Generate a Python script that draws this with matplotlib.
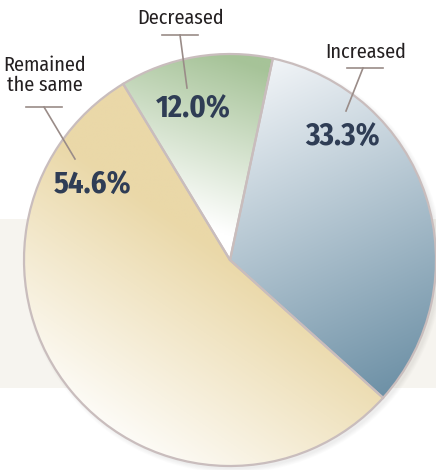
import numpy as np
import matplotlib
matplotlib.use("Agg")
import matplotlib.pyplot as plt
from matplotlib.patches import Rectangle, Circle
from matplotlib import font_manager

# Survey answers
categories = ["Increased", "Remained\nthe same", "Decreased"]
shares = [33.3, 54.6, 12.0]
pct_labels = ["33.3%", "54.6%", "12.0%"]

W, H = 436, 470
fig = plt.figure(figsize=(W / 100, H / 100), dpi=100)
ax = fig.add_axes([0, 0, 1, 1])

names = {f.name for f in font_manager.fontManager.ttflist}
narrow = next((n for n in ["Fira Sans Condensed", "PT Sans Narrow",
                           "Roboto Condensed", "Open Sans Condensed",
                           "Archivo Narrow", "Liberation Sans Narrow"]
               if n in names), "DejaVu Sans")

# light horizontal band behind the pie
ax.add_patch(Rectangle((0, H - 388), W, 169, facecolor="#f6f4ef",
                       edgecolor="none", zorder=0))

cx, cy, r = 230, H - 260, 206

# soft drop shadow, offset to the lower right
for k in range(6):
    ax.add_patch(Circle((cx + 3, cy - 3), r + k * 0.8,
                        facecolor="#000000", alpha=0.011, edgecolor="none",
                        zorder=1))

wedges, _ = ax.pie(shares, startangle=78, counterclock=False,
                   center=(cx, cy), radius=r, frame=True,
                   wedgeprops=dict(edgecolor="#c9bdbd", linewidth=1.6))
ax.set_xlim(0, W)
ax.set_ylim(0, H)
ax.set_aspect("equal")
ax.axis("off")


def gradient(c0, c1, p0, p1):
    """Linear gradient from colour c0 at point p0 to c1 at point p1."""
    xs = np.linspace(cx - r, cx + r, 300)
    ys = np.linspace(cy - r, cy + r, 300)
    X, Y = np.meshgrid(xs, ys)
    d = np.array(p1, float) - np.array(p0, float)
    t = ((X - p0[0]) * d[0] + (Y - p0[1]) * d[1]) / (d @ d)
    t = np.clip(t, 0, 1)[..., None]
    a = np.array(matplotlib.colors.to_rgb(c0))
    b = np.array(matplotlib.colors.to_rgb(c1))
    return a + (b - a) * t


grads = [
    gradient("#f1f4f7", "#6a8ea4", (250, H - 70), (400, H - 400)),
    gradient("#ffffff", "#ead8a8", (60, H - 420), (190, H - 230)),
    gradient("#ffffff", "#a6c398", (215, H - 230), (270, H - 70)),
]
for w, img in zip(wedges, grads):
    w.set_facecolor("none")
    w.set_zorder(3)
    im = ax.imshow(img, extent=(cx - r, cx + r, cy - r, cy + r),
                   origin="lower", interpolation="bilinear", zorder=2)
    im.set_clip_path(w)

ax.set_xlim(0, W)
ax.set_ylim(0, H)

# percentage labels
pct_pos = [(342, 138), (93, 186), (193, 110)]
for txt, (x, y) in zip(pct_labels, pct_pos):
    ax.text(x, H - y, txt, ha="center", va="center", fontsize=22,
            fontweight="bold", family=narrow, color="#2f3d55", zorder=5)

# category labels with leader lines
lead = "#9a8c88"
cat_pos = [(366, 52), (45, 75), (181, 18)]
for txt, (x, y) in zip(categories, cat_pos):
    ax.text(x, H - y, txt, ha="center", va="center", fontsize=14.5,
            family=narrow, color="#231f20", zorder=5, linespacing=1.05)

lines = [
    ((347, 68), (383, 68), (363, 68), (346, 111)),
    ((26, 107), (62, 107), (44, 107), (75, 159)),
    ((162, 35), (198, 35), (180, 35), (187, 88)),
]
for a, b, c, d in lines:
    ax.plot([a[0], b[0]], [H - a[1], H - b[1]], color=lead, lw=1.2, zorder=5)
    ax.plot([c[0], d[0]], [H - c[1], H - d[1]], color=lead, lw=1.2, zorder=5)

fig.savefig("out.png", dpi=100)
